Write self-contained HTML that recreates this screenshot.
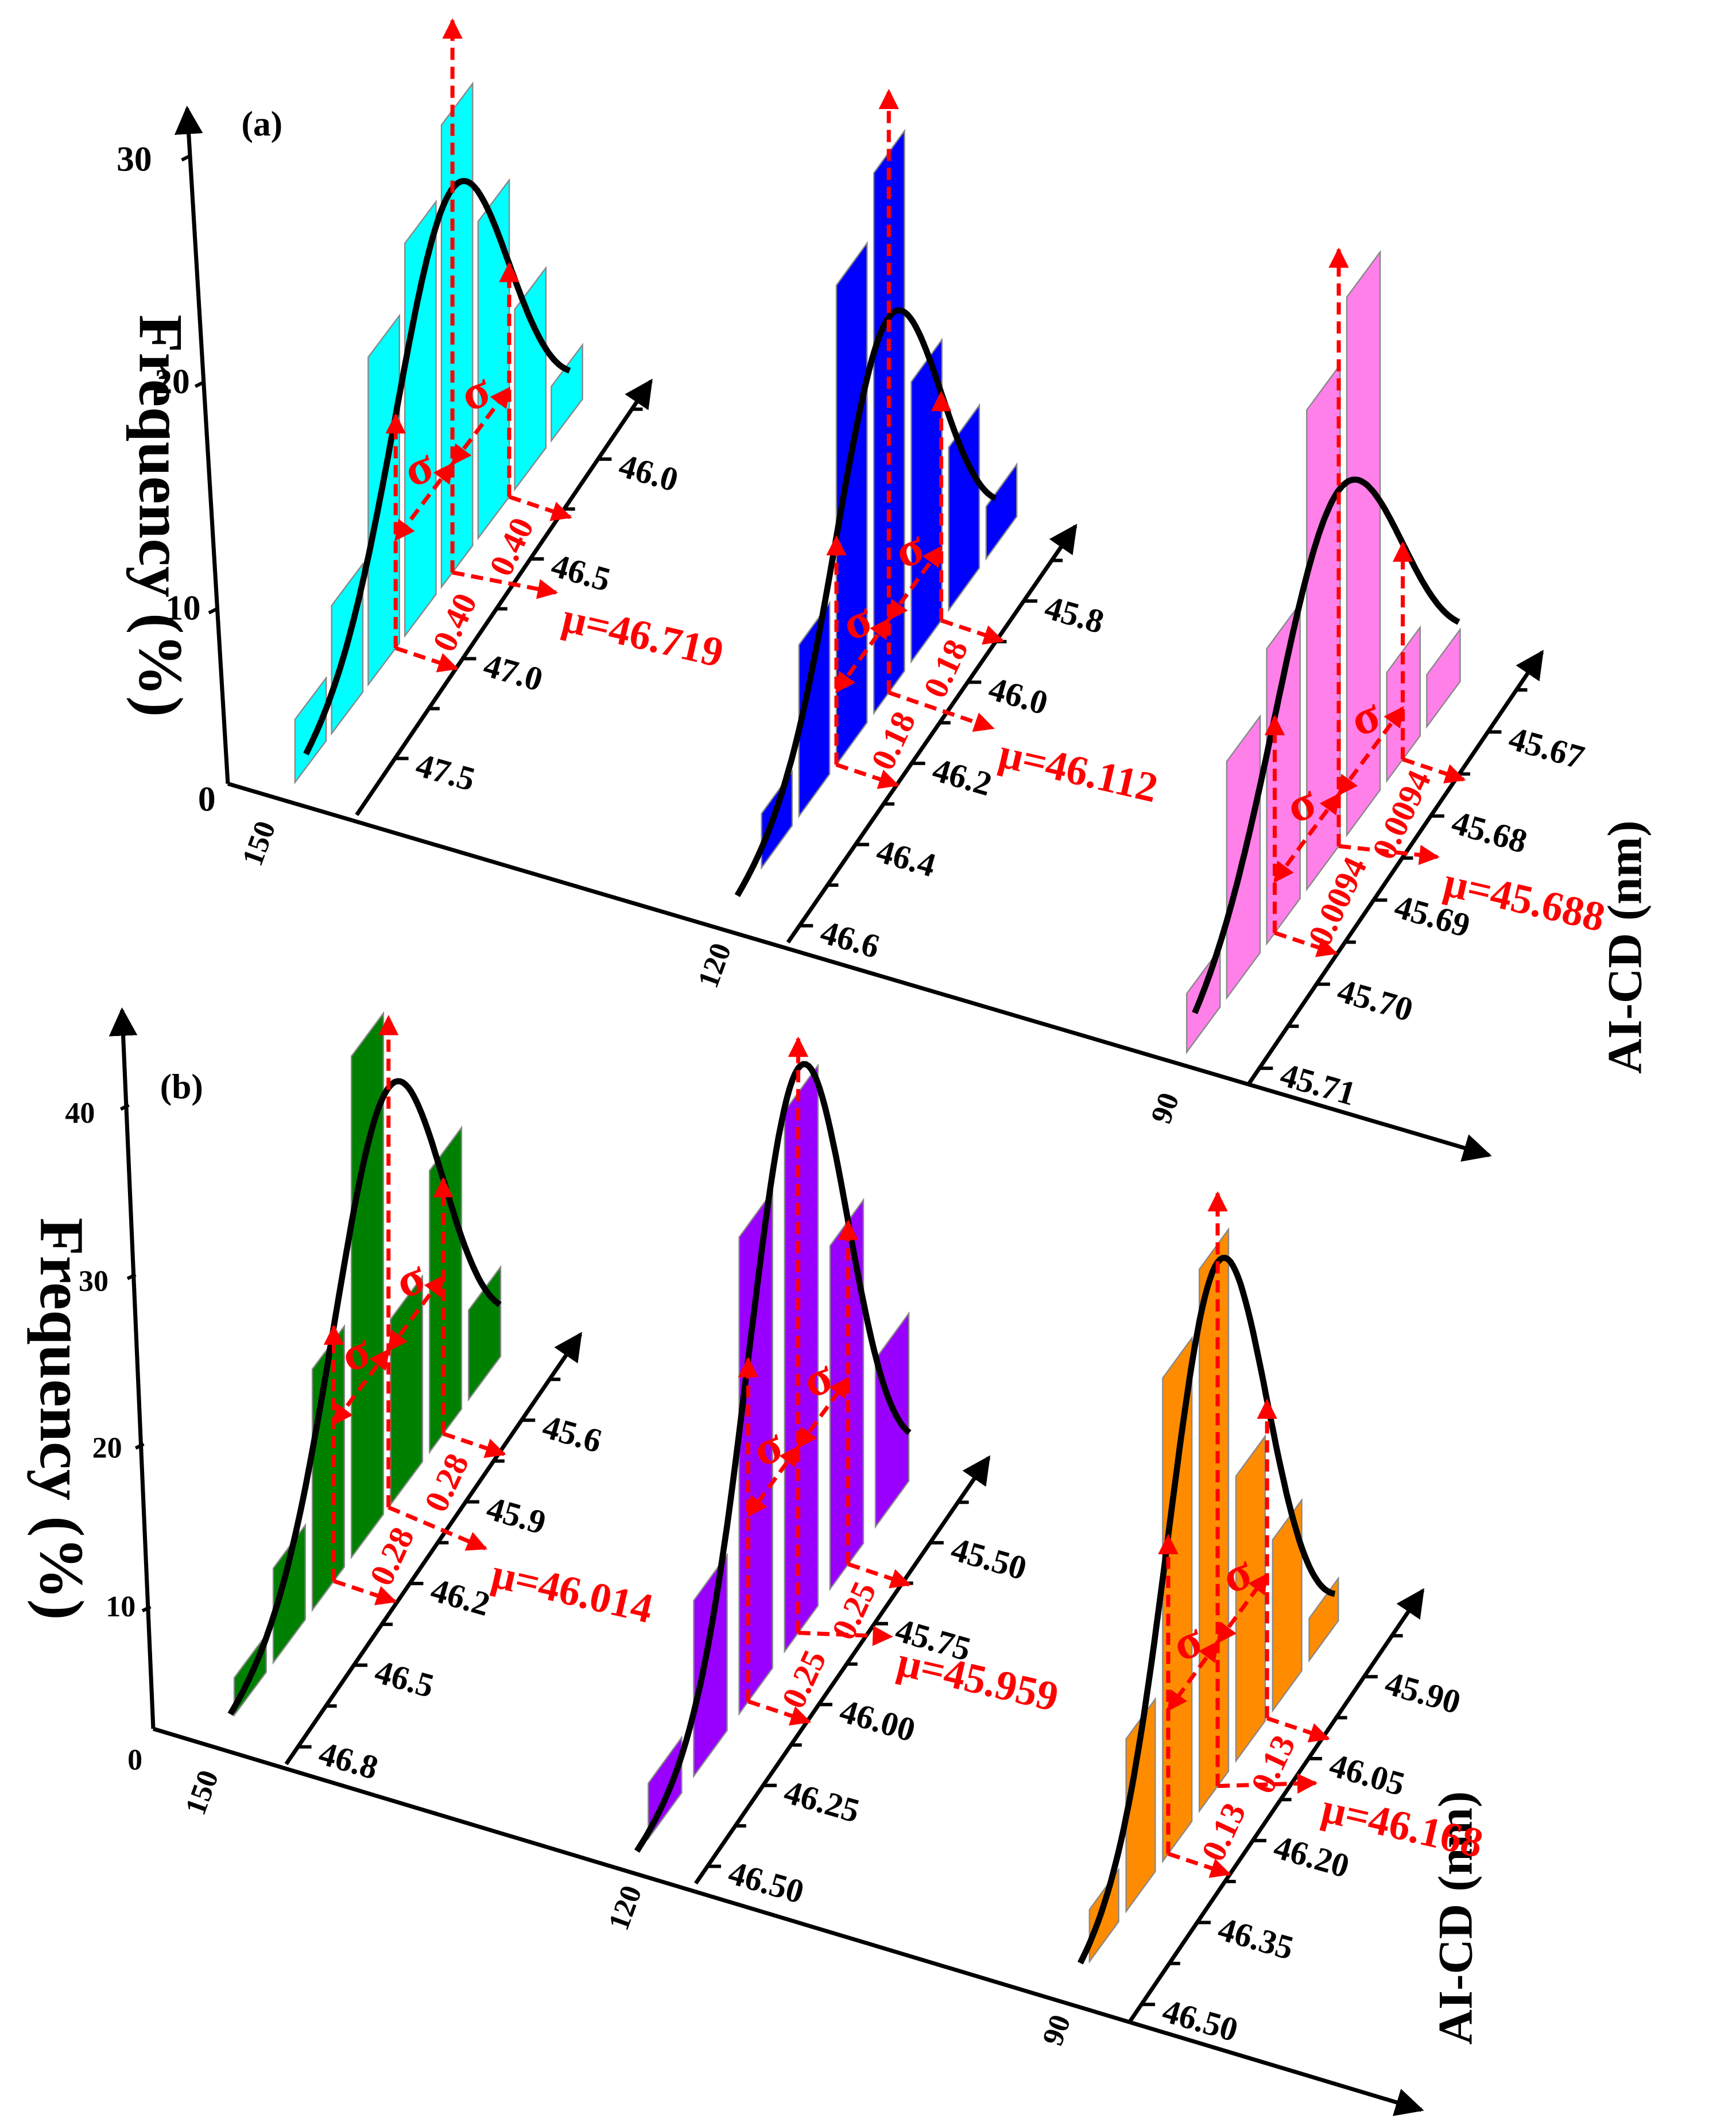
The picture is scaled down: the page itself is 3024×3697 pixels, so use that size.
<!DOCTYPE html>
<html><head><meta charset="utf-8"><style>
html,body{margin:0;padding:0;background:#fff;}
svg{display:block;font-family:"Liberation Serif",serif;font-weight:bold;}
</style></head><body>
<svg id="chart" xmlns="http://www.w3.org/2000/svg" width="3024" height="3697" viewBox="0 0 1280 1565" preserveAspectRatio="none">
<defs>
<marker id="ak" viewBox="0 0 10 10" refX="9" refY="5" markerWidth="7" markerHeight="7" orient="auto"><path d="M0,0 L10,5 L0,10 z" fill="#000"/></marker>
<marker id="ar" viewBox="0 0 10 10" refX="9" refY="5" markerWidth="5" markerHeight="5" orient="auto-start-reverse"><path d="M0,0 L10,5 L0,10 z" fill="#f00"/></marker>
</defs>
<g id="static">
<text x="178" y="100" font-size="26">(a)</text>
<text x="118" y="810" font-size="26">(b)</text>
<line x1="168" y1="578" x2="138" y2="80" stroke="#000" stroke-width="3" marker-end="url(#ak)"/>
<line x1="168" y1="578" x2="1098" y2="852" stroke="#000" stroke-width="3" marker-end="url(#ak)"/>
<g stroke="#000" stroke-width="2.5">
<line x1="140" y1="115" x2="134" y2="118"/><line x1="150" y1="282" x2="144" y2="285"/><line x1="160" y1="449" x2="154" y2="452"/></g>
<g font-size="26">
<text x="86" y="126">30</text><text x="114" y="290">20</text><text x="122" y="457">10</text><text x="146" y="598">0</text></g>
<text transform="translate(103,232) rotate(90)" font-size="46">Frequency (%)</text>
<text transform="translate(1210,792) rotate(-90)" font-size="36">AI-CD (nm)</text>
<g font-size="22">
<text transform="translate(192,640) rotate(-70)">150</text>
<text transform="translate(528,730) rotate(-70)">120</text>
<text transform="translate(862,830) rotate(-70)">90</text></g>
<line x1="113" y1="1275" x2="90" y2="745" stroke="#000" stroke-width="3" marker-end="url(#ak)"/>
<line x1="113" y1="1275" x2="1048" y2="1556" stroke="#000" stroke-width="3" marker-end="url(#ak)"/>
<g stroke="#000" stroke-width="2.5">
<line x1="95" y1="815" x2="89" y2="818"/><line x1="100" y1="940" x2="94" y2="943"/><line x1="106" y1="1065" x2="100" y2="1068"/><line x1="111" y1="1185" x2="105" y2="1188"/></g>
<g font-size="22">
<text x="48" y="828">40</text><text x="58" y="952">30</text><text x="68" y="1075">20</text><text x="78" y="1192">10</text><text x="94" y="1305">0</text></g>
<text transform="translate(30,898) rotate(90)" font-size="46">Frequency (%)</text>
<text transform="translate(1085,1508) rotate(-90)" font-size="36">AI-CD (nm)</text>
<g font-size="22">
<text transform="translate(150,1340) rotate(-70)">150</text>
<text transform="translate(462,1425) rotate(-70)">120</text>
<text transform="translate(782,1510) rotate(-70)">90</text></g>
</g>
<g id="dyn"></g>
</svg>
<script>
const names = ["cyan","blue","pink","green","purple","orange"];
const colors = ["#00ffff","#0000ff","#ff80e8","#008000","#9900ff","#ff8c00"];
const freqCyan = [2.9,5.9,15.1,18.1,21.3,14.6,8.3,2.5];
const freqBlue = [2.5,7.9,22.1,24.9,12.9,7.5,2.4];
const freqPink = [2.7,10.9,13.6,22.1,24.8,5,2.4];
const freqGreen = [2.3,5.8,14.8,30.8,11.4,17.3,5.5];
const freqPurple = [3.4,10.8,29.3,33.2,21.1,10.3];
const freqOrange = [3.2,10.6,29.7,33.3,17.5,10.5,2.6];
const freqs = [freqCyan,freqBlue,freqPink,freqGreen,freqPurple,freqOrange];
const meanLabels = ["μ=46.719","μ=46.112","μ=45.688","μ=46.014","μ=45.959","μ=46.168"];
const sigmaLabels = ["0.40","0.18","0.0094","0.28","0.25","0.13"];
const fitMeanIdx = [4.3,3.4,3.8,3.95,3.3,3.5];
const fitSigmaIdx = [1.55,1.4,1.6,1.4,1.1,1.35];
const fitAmp = [17.7,17.3,16.4,25.8,34.7,32.2];
const tickCyan = ["47.5","47.0","46.5","46.0"];
const tickBlue = ["46.6","46.4","46.2","46.0","45.8"];
const tickPink = ["45.71","45.70","45.69","45.68","45.67"];
const tickGreen = ["46.8","46.5","46.2","45.9","45.6"];
const tickPurple = ["46.50","46.25","46.00","45.75","45.50"];
const tickOrange = ["46.50","46.35","46.20","46.05","45.90"];
const ticks = [tickCyan,tickBlue,tickPink,tickGreen,tickPurple,tickOrange];

// layout geometry
const geo = [
 {x0:217.5,y0:577,dx:27,dy:-36,W:23,k:16,top:15,hC:80,t0:0.3,t1:7.5,ax:[263,601,480,281],tf0:0.13,tfs:0.23,mu:[413,465]},
 {x0:561.5,y0:640,dx:27.6,dy:-38,W:22.6,k:16,top:67,hC:54,t0:-0.65,t1:6.25,ax:[581,695,793,388],tf0:0.04,tfs:0.195,mu:[735,565]},
 {x0:875,y0:776,dx:29.5,dy:-40,W:24.6,k:16,top:184,hC:38,t0:0.2,t1:6.8,ax:[921,799,1137,481],tf0:0.035,tfs:0.195,mu:[1063,660]},
 {x0:172.7,y0:1265,dx:28.8,dy:-38.8,W:23.6,k:12,top:750,hC:116,t0:-0.1,t1:6.8,ax:[211,1301,428,984],tf0:0.04,tfs:0.19,mu:[361,1170]},
 {x0:478,y0:1356,dx:33.5,dy:-46,W:24.6,k:12,top:766,hC:137,t0:-0.25,t1:5.75,ax:[513,1389,729,1075],tf0:0.04,tfs:0.19,mu:[660,1235]},
 {x0:803.3,y0:1446.7,dx:27,dy:-37,W:21.5,k:12,top:880,hC:106,t0:-0.25,t1:6.7,ax:[833,1491,1049,1173],tf0:0.04,tfs:0.19,mu:[973,1343]}
];
const NS="http://www.w3.org/2000/svg";
const dyn=document.getElementById('dyn');
function mk(tag,attrs,parent){const e=document.createElementNS(NS,tag);for(const a in attrs)e.setAttribute(a,attrs[a]);(parent||dyn).appendChild(e);return e;}
const RED='#f00';
freqs.forEach((fr,i)=>{
  const g=geo[i];
  const W=g.W, SH=W*g.dy/g.dx;
  const grp=mk('g',{});
  
  
  const [ax1,ay1,ax2,ay2]=g.ax;
  const axl=mk('line',{x1:ax1,y1:ay1,x2:ax2,y2:ay2,stroke:'#000','stroke-width':3,'marker-end':'url(#ak)'},grp);
  
  
  const tk=ticks[i];
  for(let j=0;j<tk.length;j++){
    const f=g.tf0+j*g.tfs;
    const px=ax1+(ax2-ax1)*f, py=ay1+(ay2-ay1)*f;
    mk('line',{x1:px,y1:py,x2:px+10,y2:py,stroke:'#000','stroke-width':2.5},grp);
    const f2=f+g.tfs/2;
    if(f2<0.95){const qx=ax1+(ax2-ax1)*f2, qy=ay1+(ay2-ay1)*f2;
      mk('line',{x1:qx,y1:qy,x2:qx+8,y2:qy,stroke:'#000','stroke-width':2.5},grp);}
    const lx=px+14, ly=py+12;
    const tx=mk('text',{x:lx,y:ly,'font-size':25,transform:`rotate(16 ${lx} ${ly})`},grp);
    tx.textContent=tk[j];
    
    
  }
  fr.forEach((v,j)=>{
    const x=g.x0+j*g.dx, y=g.y0+j*g.dy, h=v*g.k;
    const p=mk('path',{d:`M${x},${y} L${x+W},${y+SH} L${x+W},${y+SH-h} L${x},${y-h} Z`,fill:colors[i],stroke:'#888','stroke-width':1},grp);
    
    
  });
  const m=fitMeanIdx[i], s=fitSigmaIdx[i], A=fitAmp[i];
  const base=(t)=>[g.x0+t*g.dx, g.y0+t*g.dy];
  const curveY=(t)=>base(t)[1]-g.k*A*Math.exp(-Math.pow(t-m,2)/(2*s*s));
  let d='';
  for(let q=0;q<=100;q++){
    const t=g.t0+(g.t1-g.t0)*q/100;
    d+=(q?'L':'M')+base(t)[0].toFixed(1)+','+curveY(t).toFixed(1);
  }
  const c=mk('path',{d:d,fill:'none',stroke:'#000','stroke-width':4.5},grp);
  
  
  const dash={stroke:RED,'stroke-width':3,'stroke-dasharray':'9,5',fill:'none'};
  const [mx,my]=base(m);
  const ml=mk('line',Object.assign({x1:mx,y1:my,x2:mx,y2:g.top,'marker-end':'url(#ar)'},dash),grp);
  
  
  [m-s,m+s].forEach(t=>{
    const [sx,sy]=base(t);
    mk('line',Object.assign({x1:sx,y1:sy,x2:sx,y2:curveY(t),'marker-end':'url(#ar)'},dash),grp);
    mk('line',Object.assign({x1:sx,y1:sy,x2:sx+45,y2:sy+15,'marker-end':'url(#ar)'},dash),grp);
  });
  mk('line',Object.assign({x1:mx,y1:my,x2:g.mu[0]-3,y2:g.mu[1]-28,'marker-end':'url(#ar)'},dash),grp);
  const cx=mx, cy=my-g.hC;
  const vx=s*g.dx, vy=s*g.dy;
  [-1,1].forEach(sg=>{
    const ex=cx+sg*vx, ey=cy+sg*vy;
    mk('line',Object.assign({x1:cx,y1:cy,x2:ex,y2:ey,'marker-start':'url(#ar)','marker-end':'url(#ar)'},dash),grp);
    const sxm=(cx+ex)/2, sym=(cy+ey)/2-14;
    const st=mk('text',{x:sxm,y:sym,fill:RED,'font-size':36,'text-anchor':'middle',transform:`rotate(-20 ${sxm} ${sym})`},grp);
    st.textContent='σ';
    
    
    const bt=m+sg*s/2;
    const [bx,by]=base(bt);
    const lx=bx+25, ly=by+10;
    const vt=mk('text',{x:lx,y:ly,fill:RED,'font-size':25,'text-anchor':'middle','dominant-baseline':'middle',transform:`rotate(-65 ${lx} ${ly})`},grp);
    vt.textContent=sigmaLabels[i];
    
    
  });
  const mu=mk('text',{x:g.mu[0],y:g.mu[1],fill:RED,'font-size':31,transform:`rotate(13 ${g.mu[0]} ${g.mu[1]})`},grp);
  mu.textContent=meanLabels[i];
  
  
});
</script>
</body></html>
